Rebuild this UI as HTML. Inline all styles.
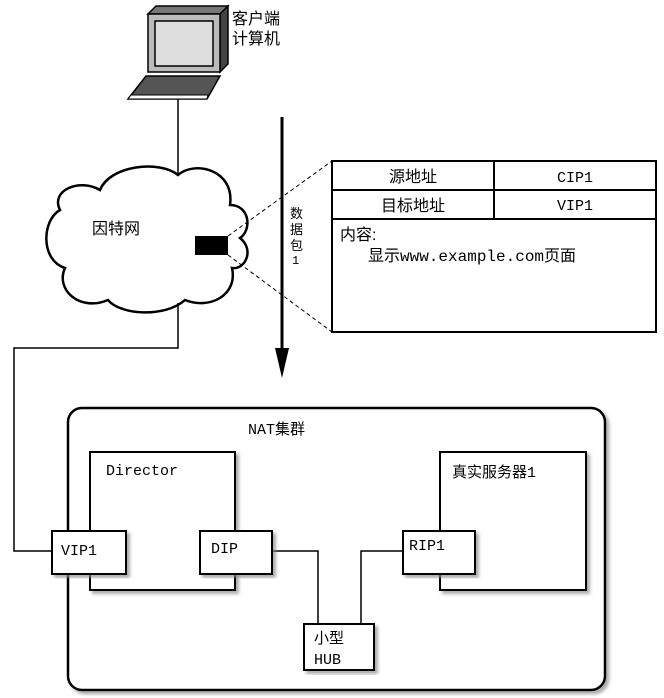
<!DOCTYPE html>
<html><head><meta charset="utf-8"><style>
html,body{margin:0;padding:0;background:#fff}
svg{display:block}
text{font-family:"Liberation Sans","Noto Sans CJK SC",sans-serif;font-size:15px;fill:#000}
.m{font-family:"Liberation Mono","Noto Sans CJK SC",monospace}
</style></head><body>
<svg width="664" height="698" viewBox="0 0 664 698" xmlns="http://www.w3.org/2000/svg">
<defs><filter id="sh" x="-5%" y="-5%" width="115%" height="115%"><feDropShadow dx="3" dy="3" stdDeviation="1.5" flood-color="#888" flood-opacity="0.7"/></filter></defs>
<!-- computer -->
<polygon points="148,14 156,6 228,6 220,14" fill="#777" stroke="#000" stroke-width="1.5"/>
<polygon points="220,14 228,6 228,64 220,72" fill="#444" stroke="#000" stroke-width="1.5"/>
<rect x="148" y="14" width="72" height="58" fill="#bbb" stroke="#000" stroke-width="1.5"/>
<rect x="155" y="21" width="58" height="45" fill="#ddd" stroke="#000" stroke-width="1.5"/>
<polygon points="146,76 220,76 207,99 128,99" fill="#555" stroke="#000" stroke-width="1.5"/>
<polygon points="131,95 208,95 207,99 128,99" fill="#fff" stroke="#000" stroke-width="1"/>
<text x="232" y="24" style="font-size:16px">客户端</text><text x="232" y="44" style="font-size:16px">计算机</text>
<line x1="178" y1="99" x2="178" y2="175" stroke="#000" stroke-width="1.5"/>
<!-- cloud -->
<path d="M100,190 C110,165 160,160 178,175 C195,160 235,170 230,205 C250,205 252,230 240,238 C255,250 245,270 232,268 C238,295 210,310 185,300 C165,318 120,315 108,300 C80,312 55,290 65,268 C40,260 42,220 60,210 C50,190 80,178 100,190 Z" fill="#fff" stroke="#000" stroke-width="2.5"/>
<text x="92" y="234" style="font-size:16px">因特网</text>
<rect x="195" y="236" width="33" height="19" fill="#000"/>
<line x1="228" y1="236" x2="332" y2="161" stroke="#000" stroke-width="1" stroke-dasharray="4,3"/>
<line x1="228" y1="255" x2="332" y2="332" stroke="#000" stroke-width="1" stroke-dasharray="4,3"/>
<!-- arrow -->
<line x1="282" y1="117" x2="282" y2="350" stroke="#000" stroke-width="3"/>
<polygon points="275,348 289,348 282,378" fill="#000"/>
<text x="290" y="218" style="font-size:13px">数</text>
<text x="290" y="234" style="font-size:13px">据</text>
<text x="290" y="250" style="font-size:13px">包</text>
<text x="292" y="264" class="m" style="font-size:12px">1</text>
<!-- table -->
<rect x="332" y="161" width="324" height="171" fill="#fff" stroke="#000" stroke-width="2"/>
<line x1="332" y1="190" x2="656" y2="190" stroke="#000" stroke-width="2"/>
<line x1="332" y1="219" x2="656" y2="219" stroke="#000" stroke-width="2"/>
<line x1="494" y1="161" x2="494" y2="219" stroke="#000" stroke-width="2"/>
<text x="413" y="182" text-anchor="middle" style="font-size:16px">源地址</text>
<text x="413" y="211" text-anchor="middle" style="font-size:16px">目标地址</text>
<text x="575" y="182" text-anchor="middle" class="m">CIP1</text>
<text x="575" y="210" text-anchor="middle" class="m">VIP1</text>
<text x="340" y="240" style="font-size:16px">内容:</text>
<text x="368" y="261" class="m" style="font-size:16px">显示www.example.com页面</text>
<!-- connectors -->
<polyline points="178,303 178,348 14,348 14,551 52,551" fill="none" stroke="#000" stroke-width="1.5"/>
<!-- cluster -->
<rect x="68" y="408" width="537" height="282" rx="14" fill="#fff" stroke="#000" stroke-width="2.5" filter="url(#sh)"/>
<text x="248" y="434" class="m" style="font-size:15px">NAT集群</text>
<rect x="90" y="452" width="145" height="138" fill="#fff" stroke="#000" stroke-width="2" filter="url(#sh)"/>
<text x="106" y="475" class="m" style="font-size:15px">Director</text>
<rect x="440" y="452" width="146" height="138" fill="#fff" stroke="#000" stroke-width="2" filter="url(#sh)"/>
<text x="452" y="477" class="m" style="font-size:15px">真实服务器1</text>
<polyline points="272,551 318,551 318,624" fill="none" stroke="#000" stroke-width="1.5"/>
<polyline points="403,551 361,551 361,624" fill="none" stroke="#000" stroke-width="1.5"/>
<rect x="52" y="531" width="74" height="43" fill="#fff" stroke="#000" stroke-width="2" filter="url(#sh)"/>
<text x="61" y="555" class="m" style="font-size:15px">VIP1</text>
<rect x="200" y="531" width="72" height="43" fill="#fff" stroke="#000" stroke-width="2" filter="url(#sh)"/>
<text x="211" y="553" class="m" style="font-size:15px">DIP</text>
<rect x="403" y="531" width="72" height="43" fill="#fff" stroke="#000" stroke-width="2" filter="url(#sh)"/>
<text x="409" y="550" class="m" style="font-size:15px">RIP1</text>
<rect x="304" y="624" width="70" height="46" fill="#fff" stroke="#000" stroke-width="2" filter="url(#sh)"/>
<text x="314" y="643" style="font-size:15px">小型</text>
<text x="314" y="664" class="m" style="font-size:15px">HUB</text>
</svg>
</body></html>
